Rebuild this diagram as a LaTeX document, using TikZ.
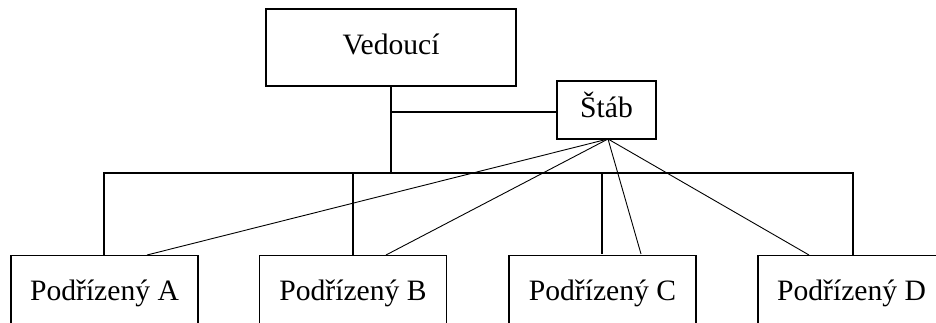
\documentclass[tikz,border=0pt]{standalone}
\usepackage{fontspec}
\setmainfont{Liberation Serif}
\begin{document}
\begin{tikzpicture}[x=1pt,y=-1pt,
  box/.style={draw,line width=1.2pt,rectangle,inner sep=0pt,font=\fontsize{29.6}{32}\selectfont,
    text height=21pt,text depth=6.5pt},
  sub/.style={box,minimum width=187,minimum height=76,anchor=north},
  link/.style={line width=1.2pt},
  staff/.style={line width=0.9pt}]
\useasboundingbox (0,0) rectangle (936,323);
\clip (0,0) rectangle (936,323);
% top management and staff
\node[box,minimum width=250,minimum height=77] (ved) at (391,47.5) {Vedoucí};
\node[box,minimum width=99,minimum height=58] (stab) at (606.5,110) {Štáb};
% subordinates (boxes run past the lower edge)
\node[sub] (pa) at (104.5,255) {Podřízený A};
\node[sub] (pb) at (353,255) {Podřízený B};
\node[sub] (pc) at (602.5,255) {Podřízený C};
\node[sub] (pd) at (851.5,255) {Podřízený D};
% line organisation
\coordinate (bus) at (391,173);
\draw[link] (ved.south) -- (bus);
\draw[link] (ved.south |- 0,112) -- (stab.west |- 0,112);
\draw[link] (pa.north -| 104,0) -- (104,173) -- (853,173) -- (853,255);
\draw[link] (353,173) -- (353,255);
\draw[link] (602,173) -- (602,254);
% staff connections
\coordinate (s) at (608,139);
\draw[staff] (s) -- (147,255);
\draw[staff] (s) -- (386,255);
\draw[staff] (s) -- (641,254);
\draw[staff] (s) -- (809,255);
\end{tikzpicture}
\end{document}
